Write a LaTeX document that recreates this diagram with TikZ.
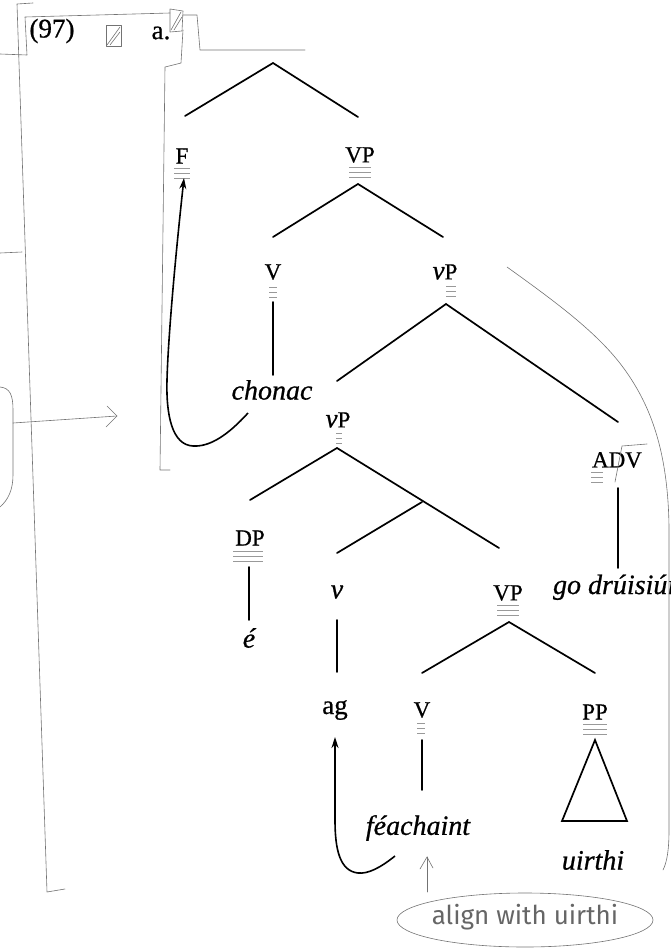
\documentclass[tikz,border=0pt]{standalone}
\usepackage{fontspec}
\setmainfont{Liberation Serif}[FakeBold=0.7]
\newfontfamily\handfont{Fira Sans}
\usetikzlibrary{arrows.meta}
\newcommand\scanlines[3]{\foreach \k in {0,1,2} {\draw[scanln] ({#1-#3/2},{#2+5*\k}) -- ++(#3,0);}}
\begin{document}
\begin{tikzpicture}[x=1pt,y=-1pt,
  catlbl/.style={font=\fontsize{23}{26}\selectfont, inner sep=0pt},
  wordlbl/.style={font=\fontsize{28}{32}\selectfont\itshape, inner sep=0pt},
  brline/.style={line width=1.7pt, line cap=round, line join=miter},
  movearr/.style={line width=1.6pt, -{Stealth[length=11pt,width=7pt]}},
  pencilline/.style={black!55, line width=0.6pt, line cap=round, line join=round},
  scanln/.style={black!40, line width=0.9pt}]
\useasboundingbox (0,0) rectangle (671,951);

% example number
\node[font=\fontsize{27}{30}\selectfont, inner sep=0pt] (num) at (52,31) {(97)};
\node[font=\fontsize{27}{30}\selectfont, inner sep=0pt] (lbla) at (161,33) {a.};

% category labels
\node[catlbl] (F) at (182,156) {F};
\node[catlbl] (VPa) at (360,155) {VP};
\node[catlbl] (Va) at (273,272) {V};
\node[catlbl] (vPa) at (445,272) {{\fontsize{27}{30}\selectfont\itshape v}P};
\node[wordlbl] (chonac) at (272,390) {chonac};
\node[catlbl] (vPb) at (338,420) {{\fontsize{27}{30}\selectfont\itshape v}P};
\node[catlbl] (ADV) at (617,460) {ADV};
\node[wordlbl, anchor=base] (godr) at (618,594) {go drúisiúil};
\node[catlbl] (DP) at (250,538) {DP};
\node[wordlbl] (e) at (249,638) {é};
\node[wordlbl] (v) at (337,592) {v};
\node[catlbl] (VPb) at (508,593) {VP};
\node[font=\fontsize{27}{30}\selectfont, inner sep=0pt] (ag) at (335,710) {ag};
\node[catlbl] (Vb) at (422,710) {V};
\node[catlbl] (PP) at (595,712) {PP};
\node[wordlbl] (feach) at (418,828) {féachaint};
\node[wordlbl] (uirthi) at (593,860) {uirthi};

% scan marks under labels
\scanlines{182}{168}{16}
\scanlines{360}{167}{22}
\scanlines{273}{287}{8}
\scanlines{451}{286}{10}
\scanlines{339}{433}{6}
\scanlines{597}{472}{12}
\scanlines{248}{551}{30}
\scanlines{508}{605}{22}
\scanlines{421}{723}{8}
\scanlines{595}{724}{24}

% branch points
\coordinate (R) at (273,63);
\coordinate (Ft) at (185,116);
\coordinate (VPat) at (358,117);
\coordinate (VPab) at (358,184);
\coordinate (Vat) at (273,237);
\coordinate (vPat) at (443,237);
\coordinate (Vab) at (273,302);
\coordinate (chot) at (273,375);
\coordinate (vPab) at (446,304);
\coordinate (vPbt) at (337,381);
\coordinate (ADVt) at (618,422);
\coordinate (ADVb) at (618,488);
\coordinate (godt) at (618,568);
\coordinate (vPbb) at (337,448);
\coordinate (DPt) at (250,500);
\coordinate (vbar) at (422,502);
\coordinate (VPbt) at (499,548);
\coordinate (vt) at (337,553);
\coordinate (DPb) at (249,567);
\coordinate (et) at (249,620);
\coordinate (vb) at (337,620);
\coordinate (agt) at (337,672);
\coordinate (VPbb) at (509,622);
\coordinate (Vbt) at (422,673);
\coordinate (PPt) at (595,673);
\coordinate (Vbb) at (422,740);
\coordinate (feat) at (422,790);
\coordinate (PPb) at (595,740);
\coordinate (tril) at (562,821);
\coordinate (trir) at (627,821);

% branches
\draw[brline] (Ft) -- (R) -- (VPat);
\draw[brline] (Vat) -- (VPab) -- (vPat);
\draw[brline] (Vab) -- (chot);
\draw[brline] (vPbt) -- (vPab) -- (ADVt);
\draw[brline] (ADVb) -- (godt);
\draw[brline] (DPt) -- (vPbb) -- (VPbt);
\draw[brline] (vbar) -- (vt);
\draw[brline] (DPb) -- (et);
\draw[brline] (vb) -- (agt);
\draw[brline] (Vbt) -- (VPbb) -- (PPt);
\draw[brline] (Vbb) -- (feat);
\draw[brline] (PPb) -- (tril) -- (trir) -- cycle;

% movement arrows
\coordinate (chmv) at (248,413);
\coordinate (Farr) at (184,178);
\draw[movearr] (chmv) .. controls (228,435) and (210,447) .. (193,446)
  .. controls (172,445) and (166,415) .. (167,380)
  .. controls (168,340) and (175,260) .. (Farr);
\coordinate (femv) at (395,856);
\coordinate (agarr) at (335,737);
\draw[movearr] (femv) .. controls (380,868) and (368,874) .. (358,873)
  .. controls (340,871) and (335,850) .. (335,820) -- (agarr);

% pencil annotations
\draw[pencilline] (33,3) -- (17,4) -- (47,892) -- (65,889);
\draw[pencilline] (0,54) -- (27,55) -- (25,17) -- (170,13);
\draw[pencilline] (183,15) -- (197,15) -- (200,50) -- (305,50);
\draw[pencilline] (183,30) -- (181,63) -- (165,67) -- (160,470) -- (170,470);
\draw[pencilline] (0,253) -- (22,252);
\draw[pencilline] (0,387) .. controls (10,388) and (13,395) .. (13,410) -- (13,475)
  .. controls (13,490) and (8,500) .. (0,507);
\coordinate (brk) at (13,423);
\coordinate (brkarr) at (117,416);
\draw[pencilline] (brk) -- (brkarr);
\draw[pencilline] (107,406) -- (brkarr) -- (106,427);
\draw[pencilline] (106,25) rectangle (121,46);
\draw[pencilline] (107,45) -- (120,27) (110,45) -- (120,32);
\draw[pencilline] (170,9) -- (183,11) -- (182,31) -- (170,32) -- cycle;
\draw[pencilline] (171,30) -- (181,12) (174,30) -- (182,17);
\draw[pencilline] (615,482) -- (622,446) -- (647,444);
\draw[pencilline] (507,267) .. controls (560,305) and (600,335) .. (625,370)
  .. controls (650,405) and (668,450) .. (669,527) -- (669,830)
  .. controls (669,850) and (667,862) .. (663,870);

% handwritten note
\node[font=\handfont\fontsize{26}{28}\selectfont, text=black!60, inner sep=0pt] (note) at (525,917) {align with uirthi};
\draw[pencilline] (525,920) ellipse [x radius=128, y radius=27];
\coordinate (notearr) at (427,892);
\coordinate (notetip) at (427,857);
\draw[pencilline] (notearr) -- (notetip);
\draw[pencilline] (420,869) -- (notetip) -- (433,868);
\end{tikzpicture}
\end{document}
